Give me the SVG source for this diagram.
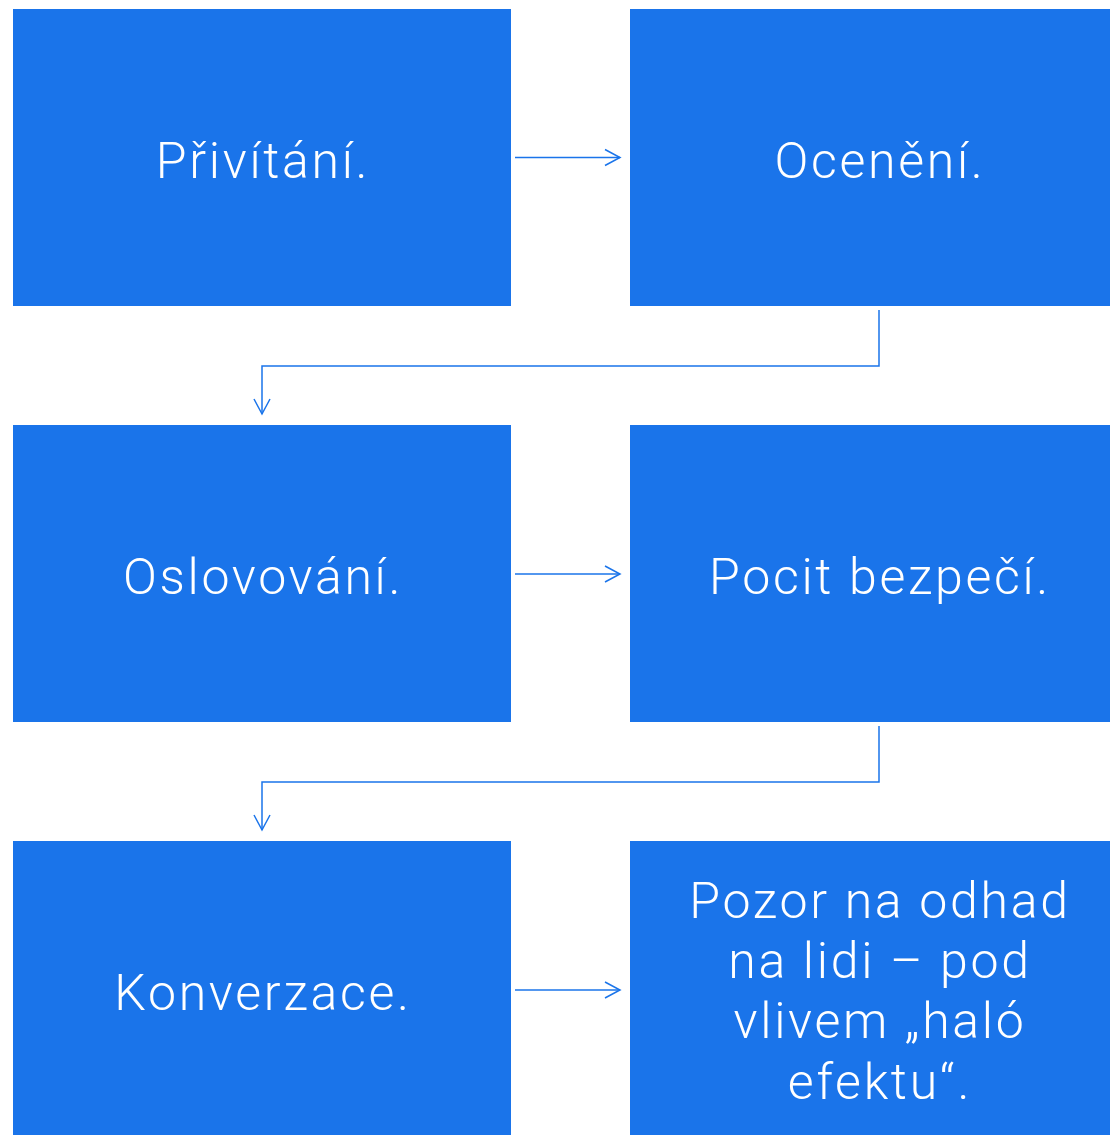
<svg xmlns="http://www.w3.org/2000/svg" width="1110" height="1135" viewBox="0 0 1110 1135">
<style>
.box{fill:#1a74ea}
.t{font-family:Roboto,"Noto Sans",sans-serif;font-weight:300;font-size:50px;fill:#fff;text-anchor:middle;letter-spacing:2.7px}
.c{fill:none;stroke:#1a74ea;stroke-width:1.5}
</style>
<defs>
<marker id="ah" markerUnits="userSpaceOnUse" markerWidth="20" markerHeight="20" refX="16" refY="10" orient="auto" viewBox="0 0 20 20">
<path d="M1,2 L16,10 L1,18" fill="none" stroke="#1a74ea" stroke-width="1.5"/>
</marker>
</defs>
<rect width="1110" height="1135" fill="#fff"/>
<g id="n1"><rect class="box" x="13" y="9" width="498" height="297"/><text class="t" x="263" y="178">Přivítání.</text></g>
<g id="n2"><rect class="box" x="630" y="9" width="498" height="297"/><text class="t" x="880" y="178">Ocenění.</text></g>
<g id="n3"><rect class="box" x="13" y="425" width="498" height="297"/><text class="t" x="263" y="594">Oslovování.</text></g>
<g id="n4"><rect class="box" x="630" y="425" width="498" height="297"/><text class="t" x="880" y="594">Pocit bezpečí.</text></g>
<g id="n5"><rect class="box" x="13" y="841" width="498" height="297"/><text class="t" x="263" y="1010">Konverzace.</text></g>
<g id="n6"><rect class="box" x="630" y="841" width="498" height="297"/><text class="t" x="880" y="918">Pozor na odhad<tspan x="880" y="978">na lidi – pod</tspan><tspan x="880" y="1038">vlivem „haló</tspan><tspan x="880" y="1099">efektu“.</tspan></text></g>
<g id="connectors">
<path class="c" d="M515,157.5 H620" marker-end="url(#ah)"/>
<path class="c" d="M879,310 V366 H262 V414" marker-end="url(#ah)"/>
<path class="c" d="M515,574 H620" marker-end="url(#ah)"/>
<path class="c" d="M879,726 V782 H262 V830" marker-end="url(#ah)"/>
<path class="c" d="M515,990 H620" marker-end="url(#ah)"/>
</g>
</svg>
